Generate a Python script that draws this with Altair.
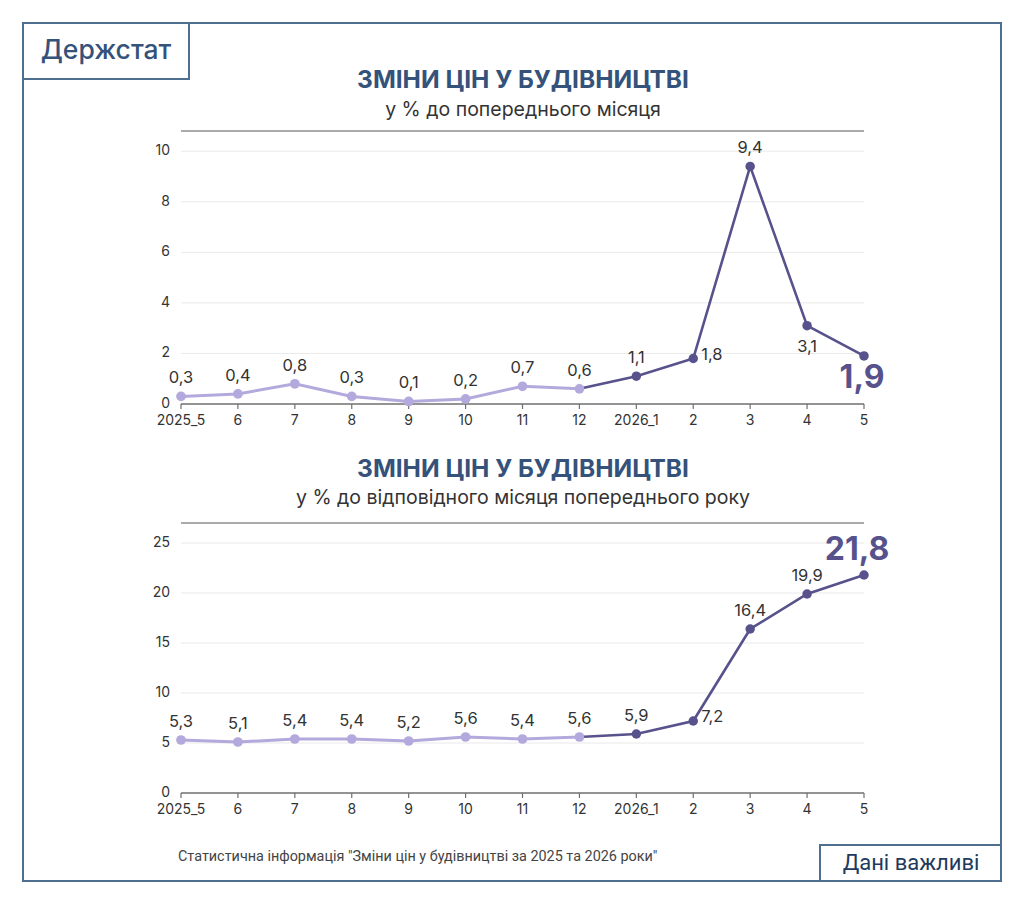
import altair as alt
import pandas as pd

# Months on the x axis (May 2025 .. May 2026)
months = ["2025_5", "6", "7", "8", "9", "10", "11", "12", "2026_1", "2", "3", "4", "5"]
# Construction price change, % to previous month
mom_values = [0.3, 0.4, 0.8, 0.3, 0.1, 0.2, 0.7, 0.6, 1.1, 1.8, 9.4, 3.1, 1.9]
# Construction price change, % to same month of previous year
yoy_values = [5.3, 5.1, 5.4, 5.4, 5.2, 5.6, 5.4, 5.6, 5.9, 7.2, 16.4, 19.9, 21.8]
mom_ticks = [0, 2, 4, 6, 8, 10]
yoy_ticks = [0, 5, 10, 15, 20, 25]

title_main = "ЗМІНИ ЦІН У БУДІВНИЦТВІ"
subtitle_mom = "у % до попереднього місяця"
subtitle_yoy = "у % до відповідного місяця попереднього року"
brand = "Держстат"
badge = "Дані важливі"
source = 'Статистична інформація "Зміни цін у будівництві за 2025 та 2026 роки"'

W, H = 1024, 904
FONT = "Inter"
LIGHT = "#b3a9dc"
DARK = "#57528c"
NAVY = "#34527a"
FRAME = "#4f6f8e"
TEXT = "#333333"
AXIS = "#6f6f6f"
SPLIT = 7  # index of "12": last month of the light segment
TICK_PX = 5


def panel(values, ticks, ymax, y_bottom, y_top, right_months, below_months, big_dx, big_dy):
    df = pd.DataFrame({"month": months, "value": values, "idx": list(range(len(months)))})
    tick_df = pd.DataFrame({"v": ticks})
    xs = alt.Scale(type="point", domain=months, range=[181, 864], padding=0)
    ys = alt.Scale(domain=[0, ymax], range=[y_bottom, y_top], nice=False, zero=True)
    # tick length expressed in data units of this panel
    tick_len = TICK_PX * ymax / (y_bottom - y_top)

    base = alt.Chart(df).transform_calculate(
        label="replace(format(datum.value, '.1f'), '.', ',')"
    )
    x_enc = alt.X("month:N", scale=xs, axis=None)
    y_enc = alt.Y("value:Q", scale=ys, axis=None)
    x_first = alt.XDatum(months[0], type="nominal", scale=xs, axis=None)
    x_last = alt.X2Datum(months[-1])
    y_zero = alt.YDatum(0, type="quantitative", scale=ys, axis=None)

    grid = alt.Chart(pd.DataFrame({"v": ticks[1:]})).mark_rule(
        color="#e9e9e9", strokeWidth=1
    ).encode(y=alt.Y("v:Q", scale=ys, axis=None), x=x_first, x2=x_last)

    top_rule = alt.Chart(pd.DataFrame({"v": [ymax]})).mark_rule(
        color="#8f8f8f", strokeWidth=1.5
    ).encode(y=alt.Y("v:Q", scale=ys, axis=None), x=x_first, x2=x_last)

    # x axis: baseline, tick marks and month labels
    baseline = alt.Chart(pd.DataFrame({"v": [0]})).mark_rule(
        color=AXIS, strokeWidth=1.5
    ).encode(y=alt.Y("v:Q", scale=ys, axis=None), x=x_first, x2=x_last)
    x_ticks = base.mark_rule(color=AXIS, strokeWidth=1.2).encode(
        x=x_enc, y=y_zero, y2=alt.Y2Datum(-tick_len)
    )
    x_labels = base.mark_text(
        font=FONT, fontSize=14, color=TEXT, baseline="middle", dy=17
    ).encode(x=x_enc, y=y_zero, text="month:N")

    # y axis labels
    y_labels = alt.Chart(tick_df).mark_text(
        font=FONT, fontSize=14, color=TEXT, align="right", baseline="middle", dx=-11
    ).encode(y=alt.Y("v:Q", scale=ys, axis=None), x=x_first, text="v:Q")

    light_line = base.transform_filter(f"datum.idx <= {SPLIT}").mark_line(
        color=LIGHT, strokeWidth=3
    ).encode(x=x_enc, y=y_enc)
    dark_line = base.transform_filter(f"datum.idx >= {SPLIT}").mark_line(
        color=DARK, strokeWidth=2.6
    ).encode(x=x_enc, y=y_enc)

    light_pts = base.transform_filter(f"datum.idx <= {SPLIT}").mark_circle(
        color=LIGHT, size=95, opacity=1
    ).encode(x=x_enc, y=y_enc)
    dark_pts = base.transform_filter(f"datum.idx > {SPLIT}").mark_circle(
        color=DARK, size=90, opacity=1
    ).encode(x=x_enc, y=y_enc)

    special = right_months + below_months + [months[-1]]
    above = base.transform_filter(
        {"not": alt.FieldOneOfPredicate(field="month", oneOf=special)}
    ).mark_text(
        font=FONT, fontSize=16.5, color=TEXT, dy=-18, baseline="middle"
    ).encode(x=x_enc, y=y_enc, text="label:N")

    layers = [grid, top_rule, baseline, x_ticks, x_labels, y_labels,
              light_line, dark_line, light_pts, dark_pts, above]
    if right_months:
        layers.append(
            base.transform_filter(alt.FieldOneOfPredicate(field="month", oneOf=right_months))
            .mark_text(font=FONT, fontSize=16.5, color=TEXT, dx=8, dy=-4,
                       align="left", baseline="middle")
            .encode(x=x_enc, y=y_enc, text="label:N")
        )
    if below_months:
        layers.append(
            base.transform_filter(alt.FieldOneOfPredicate(field="month", oneOf=below_months))
            .mark_text(font=FONT, fontSize=16.5, color=TEXT, dy=21, baseline="middle")
            .encode(x=x_enc, y=y_enc, text="label:N")
        )
    layers.append(
        base.transform_filter(alt.FieldEqualPredicate(field="month", equal=months[-1]))
        .mark_text(font=FONT, fontSize=32, fontWeight="bold", color=DARK,
                   dx=big_dx, dy=big_dy, baseline="middle")
        .encode(x=x_enc, y=y_enc, text="label:N")
    )
    return alt.layer(*layers)


one = alt.Data(values=[{}])


def text_at(txt, x, y, size, color, weight="normal", align="center", font=FONT):
    return alt.Chart(one).mark_text(
        text=txt, fontSize=size, fontWeight=weight, color=color, align=align,
        baseline="middle", font=font,
    ).encode(x=alt.value(x), y=alt.value(y))


def box(x0, x1, y0, y1, width=2):
    return alt.Chart(one).mark_rect(
        fill="white", stroke=FRAME, strokeWidth=width
    ).encode(x=alt.value(x0), x2=alt.value(x1), y=alt.value(y0), y2=alt.value(y1))


frame = alt.Chart(one).mark_rect(
    fillOpacity=0, stroke=FRAME, strokeWidth=2
).encode(x=alt.value(23), x2=alt.value(1001), y=alt.value(23), y2=alt.value(881))

decor = [
    frame,
    box(23, 189, 23, 79),
    text_at(brand, 106, 51, 26.5, NAVY, weight=500),
    box(820, 1001, 845, 881),
    text_at(badge, 911, 863, 22, "#1f3a5c", font="Roboto"),
    text_at(title_main, 523, 81, 24.5, NAVY, weight="bold"),
    text_at(subtitle_mom, 523, 110, 19.5, TEXT),
    text_at(title_main, 523, 470, 24.5, NAVY, weight="bold"),
    text_at(subtitle_yoy, 523, 498, 19.5, TEXT),
    text_at(source, 178, 857, 14.4, "#444444", align="left", font="Roboto"),
]

top_panel = panel(mom_values, mom_ticks, 10.8, 404, 131, ["2"], ["4"], -2, 22)
bottom_panel = panel(yoy_values, yoy_ticks, 27, 793, 523, ["2"], [], -7, -25)

chart = alt.layer(*decor, top_panel, bottom_panel).resolve_scale(
    x="independent", y="independent"
).properties(
    width=W, height=H, autosize="none", padding=0, background="white"
).configure_view(stroke=None)

chart.save("out.html", embed_options={"renderer": "svg", "actions": False})
